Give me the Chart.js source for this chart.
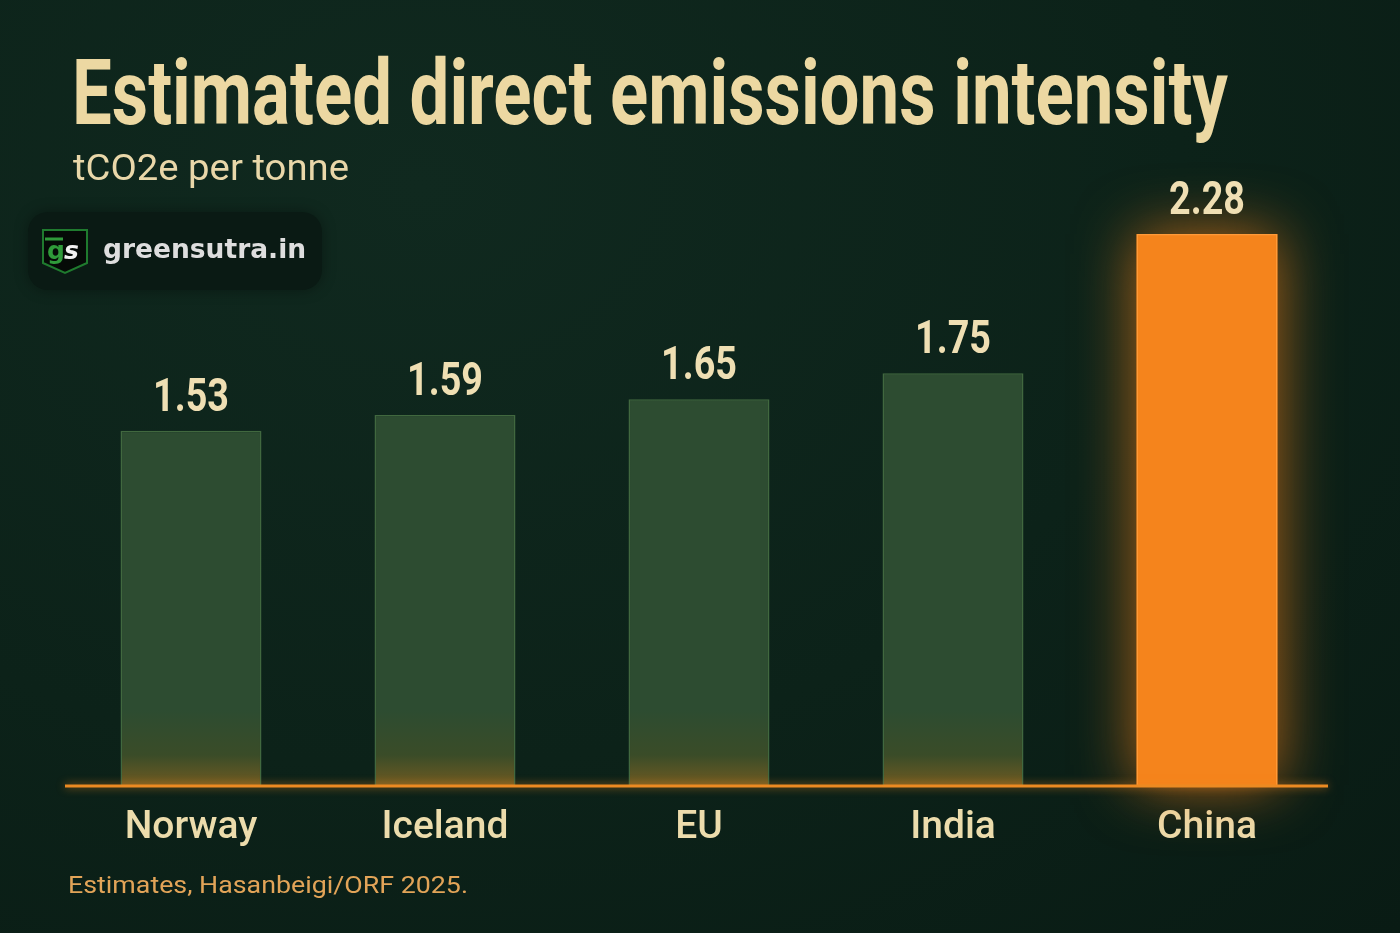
<!DOCTYPE html>
<html>
<head>
<meta charset="utf-8">
<script src="https://cdn.jsdelivr.net/npm/chart.js@4.4.1/dist/chart.umd.min.js"></script>
<style>
  html, body { margin:0; padding:0; }
  body {
    width:1400px; height:933px; overflow:hidden; position:relative;
    background: radial-gradient(ellipse at 30% 20%, #10291f 0%, #0c2219 55%, #091b14 100%);
  }
  #chart { position:absolute; left:0; top:0; }
  .txt { position:absolute; white-space:nowrap; transform-origin:0 0; }
  #title { left:72px; top:49px; font-family:"Roboto", sans-serif; font-weight:bold; font-size:90px; line-height:1; color:#ecd8a2; }
  #subtitle { left:73px; top:150px; font-family:"Roboto", sans-serif; font-size:36px; line-height:1; color:#e9d7a9; }
  #source { left:68px; top:873px; font-family:"Roboto", sans-serif; font-size:24px; line-height:1; color:#e2a458; }
  #logo { position:absolute; left:28px; top:212px; width:294px; height:78px; border-radius:20px;
          background:#0a1a14; box-shadow:0 0 14px rgba(0,0,0,0.35); }
  #shield { position:absolute; left:13px; top:15px; width:48px; height:48px; }
  #logotext { position:absolute; left:75px; top:21px; font-family:"DejaVu Sans", sans-serif; font-weight:bold; font-size:26.5px; color:#dedede; }
</style>
</head>
<body>
<canvas id="chart" width="1400" height="933"></canvas>
<div class="txt" id="title">Estimated direct emissions intensity</div>
<div class="txt" id="subtitle">tCO2e per tonne</div>
<div id="logo">
  <svg id="shield" viewBox="0 0 48 48">
    <path d="M2 3 H46 V36 L24 46 L2 36 Z" fill="#050a07" stroke="#1f7a2e" stroke-width="2"/>
    <text x="6" y="32" font-family="DejaVu Sans" font-weight="bold" font-size="25" fill="#2f9a3a">g</text>
    <text x="23" y="32" font-family="DejaVu Sans" font-weight="bold" font-style="italic" font-size="25" fill="#f2f2f2">s</text>
    <line x1="4" y1="12" x2="22" y2="12" stroke="#2f9a3a" stroke-width="3"/>
  </svg>
  <div id="logotext">greensutra.in</div>
</div>
<div class="txt" id="source">Estimates, Hasanbeigi/ORF 2025.</div>

<script>
// ---- data ----
const categories = ["Norway", "Iceland", "EU", "India", "China"];
const intensity = [1.53, 1.59, 1.65, 1.75, 2.28];
const valueLabels = ["1.53", "1.59", "1.65", "1.75", "2.28"];
const highlight = [false, false, false, false, true];

// fit text widths to reference
function fitWidth(id, w) {
  const el = document.getElementById(id);
  const actual = el.getBoundingClientRect().width;
  el.style.transform = "scaleX(" + (w / actual) + ")";
}
fitWidth("title", 1156);
fitWidth("subtitle", 276);
fitWidth("source", 400);

const greenFill = (ctx) => {
  const ca = ctx.chart.chartArea;
  if (!ca) return "#2c4a30";
  const g = ctx.chart.ctx.createLinearGradient(0, ca.bottom - 75, 0, ca.bottom);
  g.addColorStop(0, "#2d4c31");
  g.addColorStop(0.6, "#3a4c28");
  g.addColorStop(1, "#6e5a22");
  return g;
};

const glowPlugin = {
  id: "glow",
  beforeDatasetsDraw(chart) {
    const ctx = chart.ctx;
    const meta = chart.getDatasetMeta(0);
    ctx.save();
    meta.data.forEach((bar, i) => {
      if (!highlight[i]) return;
      ctx.shadowColor = "rgba(250,130,25,0.7)";
      ctx.shadowBlur = 60;
      ctx.fillStyle = "#f5841c";
      ctx.fillRect(bar.x - bar.width / 2, bar.y, bar.width, bar.base - bar.y);
    });
    ctx.restore();
  },
  afterDatasetsDraw(chart) {
    const ctx = chart.ctx;
    const ca = chart.chartArea;
    const meta = chart.getDatasetMeta(0);
    // baseline
    ctx.save();
    ctx.shadowColor = "rgba(245,135,30,0.7)";
    ctx.shadowBlur = 8;
    ctx.strokeStyle = "#ec8a22";
    ctx.lineWidth = 3;
    ctx.beginPath();
    ctx.moveTo(ca.left + 1, ca.bottom + 1);
    ctx.lineTo(ca.right - 6, ca.bottom + 1);
    ctx.stroke();
    ctx.restore();
    // value labels (condensed)
    meta.data.forEach((bar, i) => {
      ctx.save();
      ctx.translate(bar.x, bar.y - 20);
      ctx.scale(0.82, 1);
      ctx.font = 'bold 46px "Roboto", sans-serif';
      ctx.fillStyle = "#efdfb3";
      ctx.textAlign = "center";
      ctx.textBaseline = "alphabetic";
      ctx.fillText(valueLabels[i], 0, 0);
      ctx.restore();
    });
  }
};

new Chart(document.getElementById("chart"), {
  type: "bar",
  data: {
    labels: categories,
    datasets: [{
      data: intensity,
      base: 0.18,
      backgroundColor: (ctx) => highlight[ctx.dataIndex] ? "#f5841c" : greenFill(ctx),
      borderColor: (ctx) => highlight[ctx.dataIndex] ? "#ff9a38" : "#41683f",
      borderWidth: 1.5,
      borderSkipped: "bottom",
      barPercentage: 0.555,
      categoryPercentage: 1.0
    }]
  },
  options: {
    responsive: false,
    animation: false,
    events: [],
    layout: { padding: { left: 64, right: 66, top: 200, bottom: 0 } },
    plugins: { legend: { display: false }, tooltip: { enabled: false } },
    scales: {
      y: { display: false, min: 0.18, max: 2.41 },
      x: {
        grid: { display: false, drawTicks: false },
        border: { display: false },
        afterFit: (scale) => { scale.height = 148; },
        ticks: {
          color: "#ecdcac",
          padding: 20,
          font: { family: "Roboto", size: 39, weight: "500" }
        }
      }
    }
  },
  plugins: [glowPlugin]
});
</script>
</body>
</html>
